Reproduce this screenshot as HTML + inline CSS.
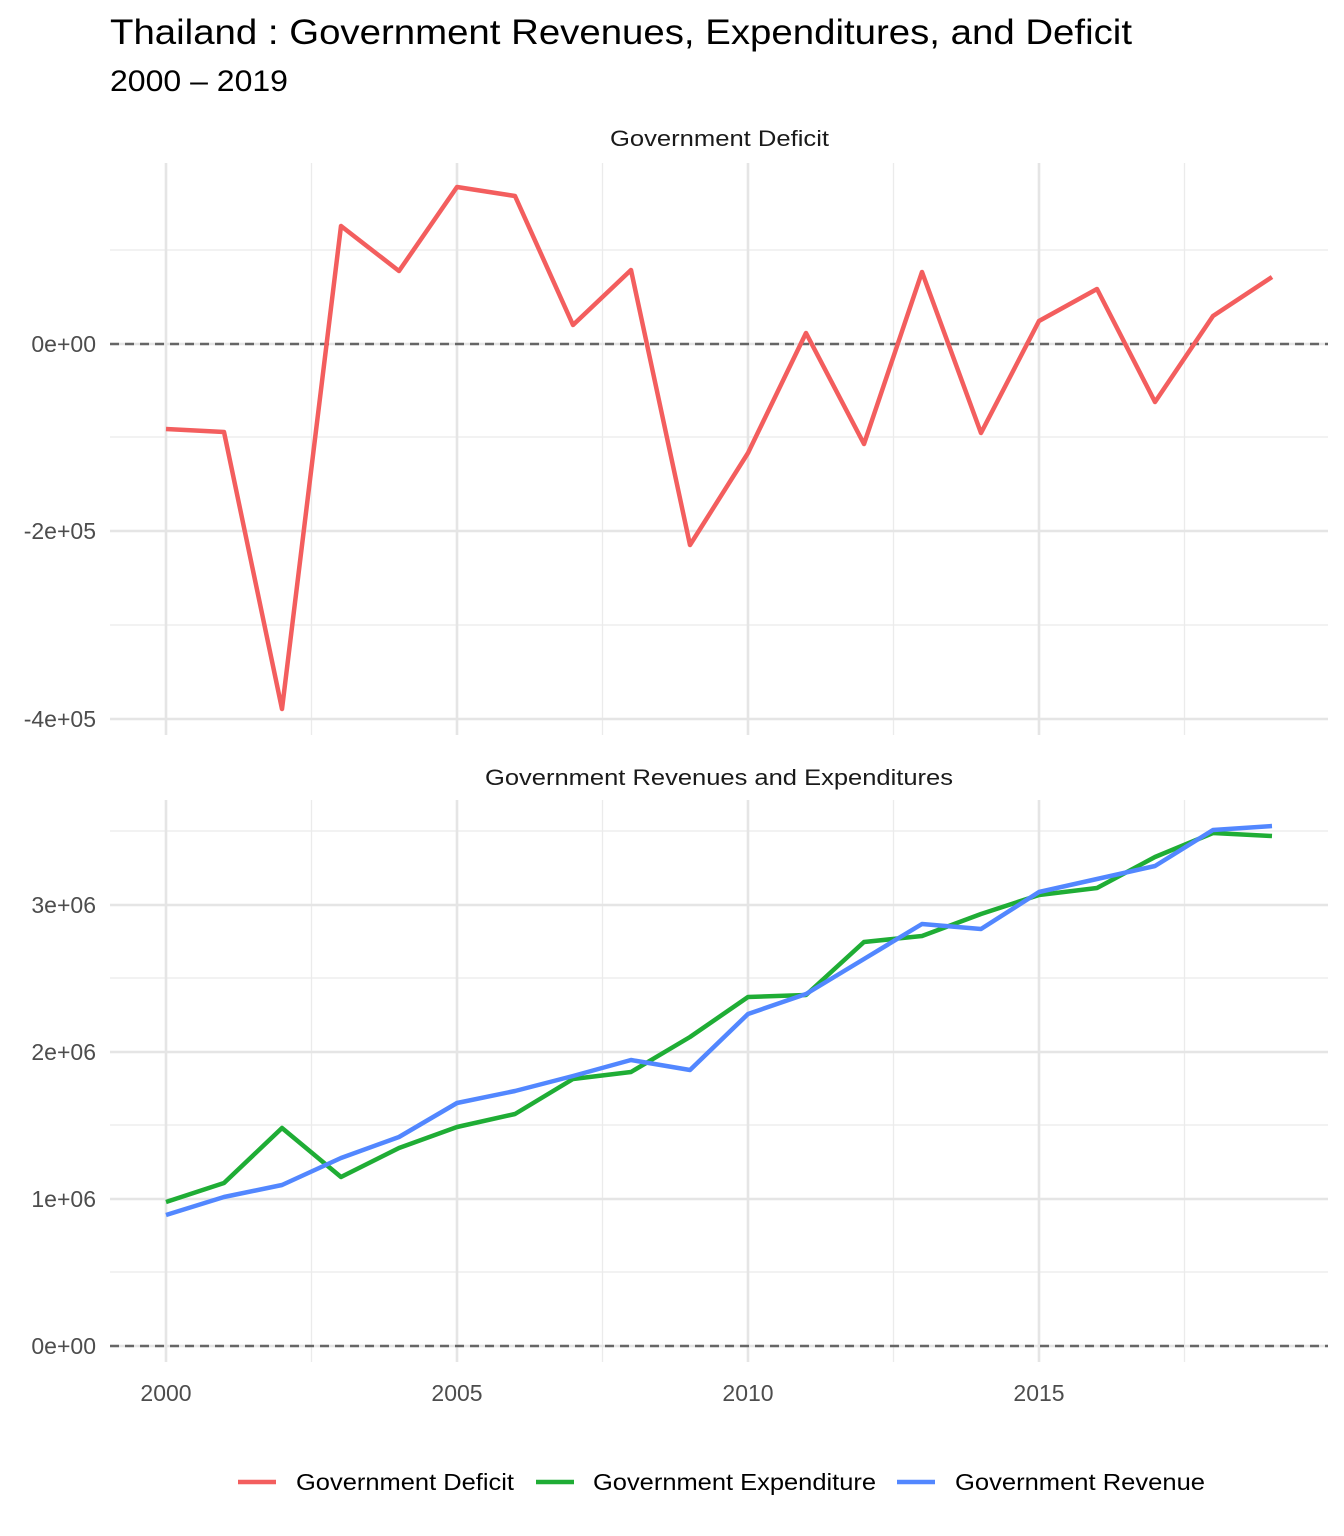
<!DOCTYPE html>
<html><head><meta charset="utf-8"><style>
body{margin:0;background:#fff}
svg{display:block;font-family:"Liberation Sans",Arial,sans-serif}
</style></head><body>
<svg width="1344" height="1536" viewBox="0 0 1344 1536" xmlns="http://www.w3.org/2000/svg">
<rect width="1344" height="1536" fill="#fff"/>
<text x="110" y="44" font-size="35" fill="#000" textLength="1022" lengthAdjust="spacingAndGlyphs">Thailand : Government Revenues, Expenditures, and Deficit</text>
<text x="110" y="91" font-size="30" fill="#000" textLength="178" lengthAdjust="spacingAndGlyphs">2000 – 2019</text>
<text x="610" y="146" font-size="22" fill="#1a1a1a" textLength="219" lengthAdjust="spacingAndGlyphs">Government Deficit</text>
<text x="485" y="785" font-size="22" fill="#1a1a1a" textLength="468" lengthAdjust="spacingAndGlyphs">Government Revenues and Expenditures</text>
<g stroke="#ebebeb" stroke-width="1.3">
<line x1="110" x2="1328" y1="250" y2="250"/><line x1="110" x2="1328" y1="437" y2="437"/><line x1="110" x2="1328" y1="625" y2="625"/>
<line x1="110" x2="1328" y1="1272" y2="1272"/><line x1="110" x2="1328" y1="1125" y2="1125"/><line x1="110" x2="1328" y1="978" y2="978"/><line x1="110" x2="1328" y1="831" y2="831"/>
<line x1="311.5" x2="311.5" y1="163" y2="735"/><line x1="602.5" x2="602.5" y1="163" y2="735"/><line x1="893.5" x2="893.5" y1="163" y2="735"/><line x1="1184.5" x2="1184.5" y1="163" y2="735"/>
<line x1="311.5" x2="311.5" y1="800" y2="1362"/><line x1="602.5" x2="602.5" y1="800" y2="1362"/><line x1="893.5" x2="893.5" y1="800" y2="1362"/><line x1="1184.5" x2="1184.5" y1="800" y2="1362"/>
</g>
<g stroke="#e5e5e5" stroke-width="2.6">
<line x1="110" x2="1328" y1="344" y2="344"/><line x1="110" x2="1328" y1="531" y2="531"/><line x1="110" x2="1328" y1="719" y2="719"/>
<line x1="110" x2="1328" y1="1346" y2="1346"/><line x1="110" x2="1328" y1="1199" y2="1199"/><line x1="110" x2="1328" y1="1052" y2="1052"/><line x1="110" x2="1328" y1="905" y2="905"/>
<line x1="166" x2="166" y1="163" y2="735"/><line x1="457" x2="457" y1="163" y2="735"/><line x1="748" x2="748" y1="163" y2="735"/><line x1="1039" x2="1039" y1="163" y2="735"/>
<line x1="166" x2="166" y1="800" y2="1362"/><line x1="457" x2="457" y1="800" y2="1362"/><line x1="748" x2="748" y1="800" y2="1362"/><line x1="1039" x2="1039" y1="800" y2="1362"/>
</g>
<g stroke="#666" stroke-width="2.4" stroke-dasharray="9,6">
<line x1="110" x2="1328" y1="344" y2="344"/><line x1="110" x2="1328" y1="1346" y2="1346"/>
</g>
<g font-size="23" fill="#4d4d4d" text-anchor="end">
<text x="96" y="352">0e+00</text><text x="96" y="539">-2e+05</text><text x="96" y="727">-4e+05</text>
<text x="96" y="1354">0e+00</text><text x="96" y="1207">1e+06</text><text x="96" y="1060">2e+06</text><text x="96" y="913">3e+06</text>
</g>
<g font-size="23" fill="#4d4d4d" text-anchor="middle">
<text x="166" y="1401">2000</text><text x="457" y="1401">2005</text><text x="748" y="1401">2010</text><text x="1039" y="1401">2015</text>
</g>
<g fill="none" stroke-width="4.5" stroke-linejoin="round">
<polyline stroke="#f35e5e" points="166,429 224,432 282,709 341,226 399,271 457,187 515,196 573,325 631,270 690,545 748,453 806,333 864,444 922,272 981,433 1039,321 1097,289 1155,402 1213,316 1272,277"/>
<polyline stroke="#1fad35" points="166,1202 224,1183 282,1128 341,1177 399,1148 457,1127 515,1114 573,1079 631,1072 690,1037 748,997 806,995 864,942 922,936 981,914 1039,895 1097,888 1155,857 1213,833 1272,836"/>
<polyline stroke="#5287ff" points="166,1215 224,1197 282,1185 341,1158 399,1137 457,1103 515,1091 573,1076 631,1060 690,1070 748,1014 806,994 864,959 922,924 981,929 1039,892 1097,879 1155,866 1213,830 1272,826"/>
</g>
<g stroke-width="4.5">
<line x1="238" x2="276" y1="1482" y2="1482" stroke="#f35e5e"/>
<line x1="536" x2="574" y1="1482" y2="1482" stroke="#1fad35"/>
<line x1="897" x2="935" y1="1482" y2="1482" stroke="#5287ff"/>
</g>
<g font-size="23" fill="#000">
<text x="296" y="1490" textLength="218" lengthAdjust="spacingAndGlyphs">Government Deficit</text>
<text x="593" y="1490" textLength="283" lengthAdjust="spacingAndGlyphs">Government Expenditure</text>
<text x="955" y="1490" textLength="250" lengthAdjust="spacingAndGlyphs">Government Revenue</text>
</g>
</svg>
</body></html>
